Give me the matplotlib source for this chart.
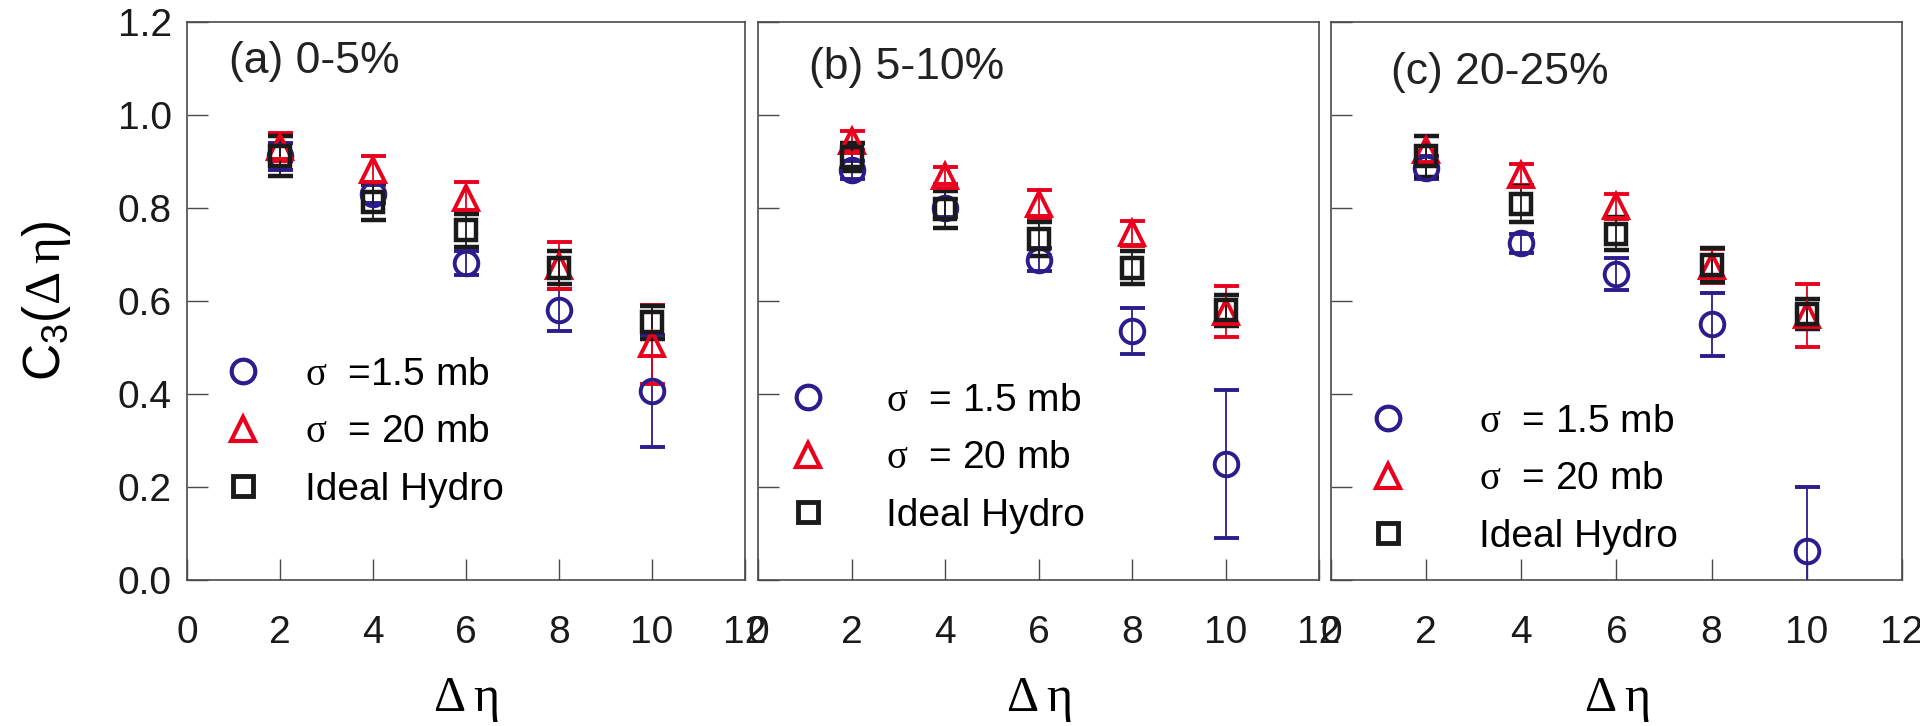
import numpy as np
import matplotlib
matplotlib.use('Agg')
import matplotlib.pyplot as plt
from matplotlib.lines import Line2D

plt.rcParams['font.family'] = ['Liberation Sans', 'DejaVu Sans']
plt.rcParams['mathtext.fontset'] = 'custom'
plt.rcParams['mathtext.rm'] = 'Liberation Serif'
plt.rcParams['mathtext.sf'] = 'Liberation Sans'

# delta eta gaps
deta = [2, 4, 6, 8, 10]

panels = ['(a) 0-5%', '(b) 5-10%', '(c) 20-25%']

# sigma = 1.5 mb
c15 = [[0.911, 0.830, 0.682, 0.581, 0.407],
       [0.882, 0.800, 0.689, 0.536, 0.249],
       [0.887, 0.724, 0.658, 0.550, 0.062]]
e15 = [[0.030, 0.020, 0.025, 0.045, 0.120],
       [0.020, 0.020, 0.025, 0.049, 0.159],
       [0.025, 0.020, 0.035, 0.068, 0.138]]

# sigma = 20 mb
c20 = [[0.931, 0.882, 0.822, 0.676, 0.507],
       [0.945, 0.870, 0.808, 0.746, 0.577],
       [0.925, 0.872, 0.804, 0.676, 0.569]]
e20 = [[0.030, 0.030, 0.033, 0.050, 0.085],
       [0.020, 0.018, 0.030, 0.027, 0.055],
       [0.030, 0.023, 0.027, 0.037, 0.068]]

# ideal hydro
chy = [[0.911, 0.814, 0.752, 0.672, 0.554],
       [0.910, 0.797, 0.734, 0.672, 0.580],
       [0.911, 0.808, 0.745, 0.678, 0.572]]
ehy = [[0.043, 0.040, 0.036, 0.035, 0.035],
       [0.030, 0.040, 0.037, 0.036, 0.034],
       [0.045, 0.039, 0.035, 0.036, 0.032]]

sig15_labels = [r'$\mathrm{\sigma}$  =1.5 mb', r'$\mathrm{\sigma}$  = 1.5 mb', r'$\mathrm{\sigma}$  = 1.5 mb']
sig20_labels = [r'$\mathrm{\sigma}$  = 20 mb'] * 3

blue = '#2b1d8c'
red = '#e8001c'
black = '#1a1a1a'
frame = '#4a4a4a'

fig = plt.figure(figsize=(19.2, 7.26), dpi=100)
boxes = [[0.0974, 0.201, 0.2906, 0.7686],
         [0.3948, 0.201, 0.2922, 0.7686],
         [0.6932, 0.201, 0.2974, 0.7686]]
label_pos = [(0.075, 0.93), (0.091, 0.918), (0.105, 0.91)]
leg_pos = [(0.066, 0.400), (0.055, 0.353), (0.065, 0.316)]
leg_gap = [1.1, 1.5, 1.85]

for i in range(3):
    ax = fig.add_axes(boxes[i])
    ax.errorbar(deta, c15[i], yerr=e15[i], fmt='o', ms=17, mfc='none', mec=blue, mew=2.8,
                ecolor=blue, elinewidth=1.3, capsize=9, capthick=1.3)
    ax.errorbar(deta, c20[i], yerr=e20[i], fmt='^', ms=17, mfc='none', mec=red, mew=2.8,
                ecolor=red, elinewidth=1.3, capsize=9, capthick=1.3)
    ax.errorbar(deta, chy[i], yerr=ehy[i], fmt='s', ms=14, mfc='none', mec=black, mew=3.2,
                ecolor=black, elinewidth=1.3, capsize=9, capthick=1.3)

    ax.set_xlim(0, 12)
    ax.set_ylim(0, 1.2)
    ax.set_xticks(np.arange(0, 13, 2))
    ax.set_yticks(np.arange(0, 1.21, 0.2))
    ax.tick_params(direction='in', length=15, width=1, color=frame, labelsize=28,
                   labelcolor='#1a1a1a', top=False, right=False)
    ax.tick_params(axis='x', pad=25)
    ax.tick_params(axis='y', pad=11)
    if i == 0:
        ax.set_yticklabels(['%.1f' % v for v in np.arange(0, 1.21, 0.2)])
        ax.set_ylabel(r'C$_\mathsf{3}$($\mathrm{\Delta\,\eta}$)', fontsize=37, labelpad=32)
    else:
        ax.set_yticklabels([])
    for s in ax.spines.values():
        s.set_color(frame)
        s.set_linewidth(1.2)
    ax.set_xlabel(r'$\mathrm{\Delta\,\eta}$', fontsize=36, labelpad=18)

    ax.text(label_pos[i][0], label_pos[i][1], panels[i], transform=ax.transAxes,
            fontsize=32, va='center', ha='left', color='#222222')

    handles = [Line2D([], [], ls='none', marker='o', ms=17, mfc='none', mec=blue, mew=3),
               Line2D([], [], ls='none', marker='^', ms=17, mfc='none', mec=red, mew=3),
               Line2D([], [], ls='none', marker='s', ms=14, mfc='none', mec=black, mew=3.5)]
    ax.legend(handles, [sig15_labels[i], sig20_labels[i], 'Ideal Hydro'],
              loc='upper left', bbox_to_anchor=leg_pos[i], frameon=False,
              fontsize=28, handlelength=1.0, handletextpad=leg_gap[i], labelspacing=0.55,
              borderpad=0, borderaxespad=0)

fig.savefig('out.png', dpi=100)
